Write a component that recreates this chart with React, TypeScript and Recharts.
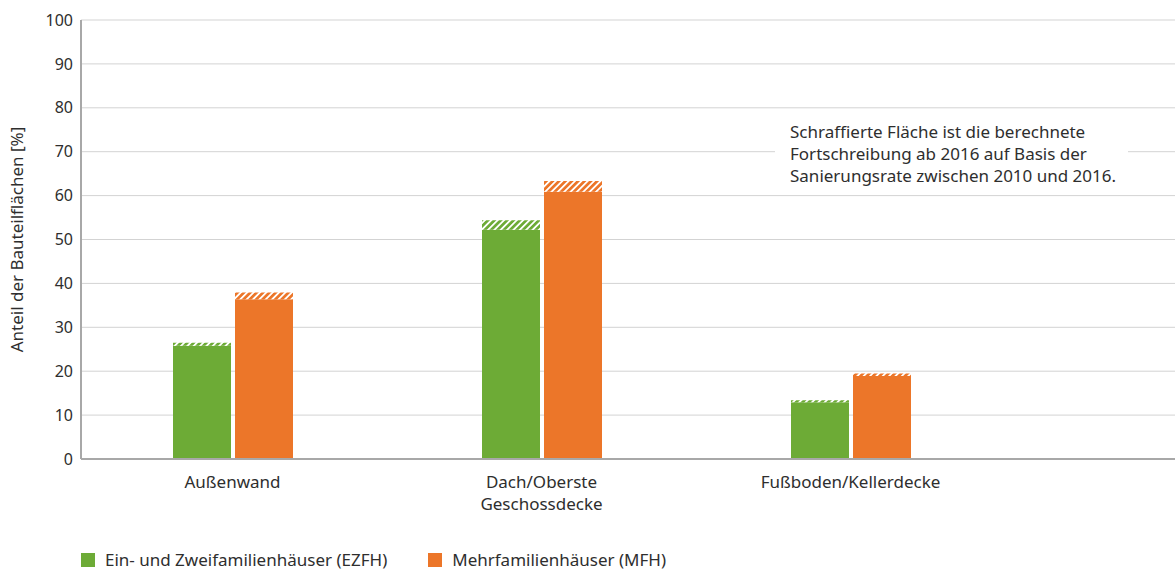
import { BarChart, Bar, XAxis, YAxis, CartesianGrid } from "recharts";

const categories = ["Außenwand", "Dach/Oberste\nGeschossdecke", "Fußboden/Kellerdecke"];
// Stand 2016 (solid) and projected total incl. hatched extension
const ezfh2016 = [25.8, 52.2, 12.9];
const ezfhTotal = [26.5, 54.4, 13.4];
const mfh2016 = [36.4, 60.9, 18.9];
const mfhTotal = [37.9, 63.3, 19.5];
const yTicks = [0, 10, 20, 30, 40, 50, 60, 70, 80, 90, 100];

const GREEN = "#6dab36";
const ORANGE = "#ec7629";
const FONT = "'Noto Sans', sans-serif";
const TEXT = "#2e2e2e";

const data = categories.map((name, i) => ({
  name,
  ezfh: ezfh2016[i],
  ezfhPlus: +(ezfhTotal[i] - ezfh2016[i]).toFixed(1),
  mfh: mfh2016[i],
  mfhPlus: +(mfhTotal[i] - mfh2016[i]).toFixed(1),
}));

function CategoryTick({ x, y, payload }: any) {
  const lines = String(payload.value).split("\n");
  return (
    <text x={x} y={y + 21} textAnchor="middle" fill={TEXT} fontSize={17} fontFamily={FONT}>
      {lines.map((l, i) => (
        <tspan key={i} x={x} dy={i === 0 ? 0 : 22}>
          {l}
        </tspan>
      ))}
    </text>
  );
}

export default function App() {
  return (
    <div style={{ position: "relative", width: 1175, height: 569, fontFamily: FONT, color: TEXT }}>
      <style>{"body{margin:0}"}</style>
      <BarChart
        width={1175}
        height={569}
        data={data}
        margin={{ top: 20, right: 0, left: 0, bottom: 40 }}
        barSize={58}
        barGap={4}
      >
        <defs>
          <pattern id="hatchGreen" patternUnits="userSpaceOnUse" width={4.5} height={4.5} patternTransform="rotate(45)">
            <rect width={4.5} height={4.5} fill="#fff" />
            <rect width={2.7} height={4.5} fill={GREEN} />
          </pattern>
          <pattern id="hatchOrange" patternUnits="userSpaceOnUse" width={4.5} height={4.5} patternTransform="rotate(45)">
            <rect width={4.5} height={4.5} fill="#fff" />
            <rect width={2.7} height={4.5} fill={ORANGE} />
          </pattern>
        </defs>
        <CartesianGrid vertical={false} stroke="#d3d3d3" />
        <XAxis
          dataKey="name"
          height={70}
          tickLine={false}
          axisLine={{ stroke: "#a8a8a8", strokeWidth: 2 }}
          padding={{ left: -3, right: 170 }}
          tick={<CategoryTick />}
          interval={0}
        />
        <YAxis
          width={81}
          domain={[0, 100]}
          ticks={yTicks}
          tickLine={false}
          axisLine={{ stroke: "#a8a8a8", strokeWidth: 2 }}
          tick={{ fill: TEXT, fontSize: 16, fontFamily: FONT }}
          label={{
            value: "Anteil der Bauteilflächen [%]",
            angle: -90,
            position: "insideLeft",
            offset: 17,
            style: { textAnchor: "middle", fill: TEXT, fontSize: 17, fontFamily: FONT },
          }}
        />
        <Bar dataKey="ezfh" stackId="e" fill={GREEN} isAnimationActive={false} />
        <Bar dataKey="ezfhPlus" stackId="e" fill="url(#hatchGreen)" isAnimationActive={false} />
        <Bar dataKey="mfh" stackId="m" fill={ORANGE} isAnimationActive={false} />
        <Bar dataKey="mfhPlus" stackId="m" fill="url(#hatchOrange)" isAnimationActive={false} />
      </BarChart>

      <div
        style={{
          position: "absolute",
          left: 775,
          top: 121,
          width: 353,
          height: 66,
          background: "#fff",
          boxSizing: "border-box",
          paddingLeft: 15,
          fontSize: 17,
          lineHeight: "22px",
        }}
      >
        Schraffierte Fläche ist die berechnete
        <br />
        Fortschreibung ab 2016 auf Basis der
        <br />
        Sanierungsrate zwischen 2010 und 2016.
      </div>

      <div style={{ position: "absolute", left: 81, top: 548, display: "flex", alignItems: "center", fontSize: 17 }}>
        <span style={{ width: 14, height: 14, background: GREEN, display: "inline-block", marginRight: 10 }} />
        <span>Ein- und Zweifamilienhäuser (EZFH)</span>
        <span style={{ width: 14, height: 14, background: ORANGE, display: "inline-block", marginLeft: 41, marginRight: 10 }} />
        <span>Mehrfamilienhäuser (MFH)</span>
      </div>
    </div>
  );
}
